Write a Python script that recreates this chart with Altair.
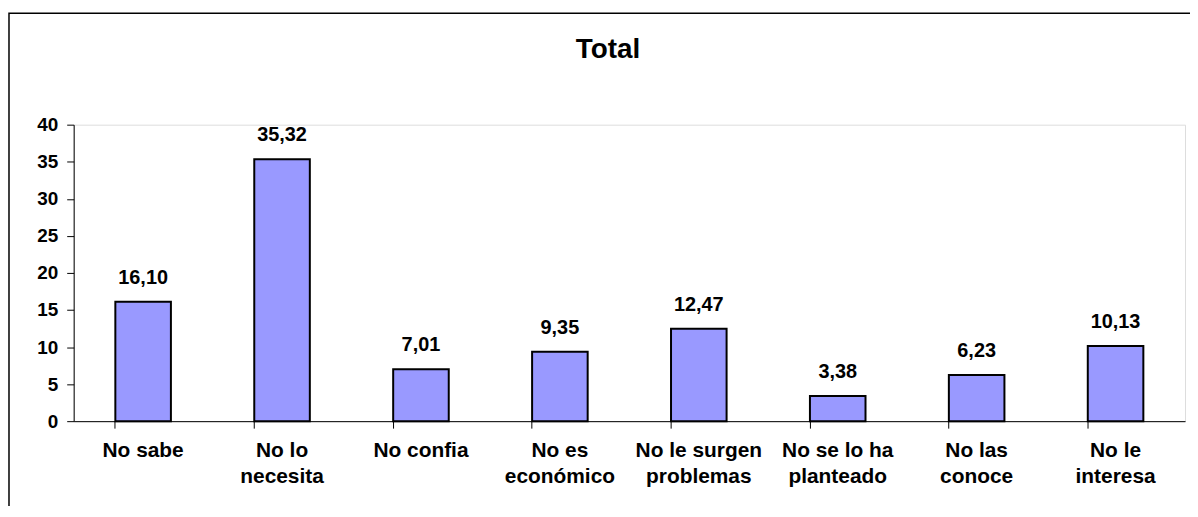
import altair as alt
import pandas as pd

categories = ["No sabe", "No lo\nnecesita", "No confia", "No es\neconómico",
              "No le surgen\nproblemas", "No se lo ha\nplanteado", "No las\nconoce",
              "No le\ninteresa"]
values = [16.10, 35.32, 7.01, 9.35, 12.47, 3.38, 6.23, 10.13]
y_ticks = [0, 5, 10, 15, 20, 25, 30, 35, 40]
title_text = "Total"

df = pd.DataFrame({"cat": categories, "val": values})

FONT = "Liberation Sans"

x_enc = alt.X("cat:N", sort=None, title=None,
              scale=alt.Scale(paddingInner=0.6, paddingOuter=0.3),
              axis=alt.Axis(labelAngle=0, labelFont=FONT, labelFontSize=21,
                            labelFontWeight="bold", labelColor="black",
                            labelExpr="split(datum.label, '\\n')",
                            labelLineHeight=26, labelPadding=12, labelBaseline="top",
                            bandPosition=0, tickSize=7, tickColor="black",
                            domainColor="black", ticks=True, grid=False))
y_enc = alt.Y("val:Q", title=None,
              scale=alt.Scale(domain=[0, 40], nice=False),
              axis=alt.Axis(values=y_ticks, labelOverlap=False,
                            labelFont=FONT, labelFontSize=19, labelFontWeight="bold",
                            labelColor="black", tickSize=7, tickColor="black",
                            domainColor="black", labelPadding=9, grid=False))

base = alt.Chart(df)

frame = base.mark_rect(fill=None, stroke="black", strokeWidth=1.5, clip=False).encode(
    x=alt.value(-65), x2=alt.value(1200), y=alt.value(-112), y2=alt.value(600)
).transform_filter("datum.cat == 'No sabe'")

title = base.mark_text(font=FONT, fontSize=28, fontWeight="bold", color="black",
                       baseline="alphabetic", align="center").encode(
    x=alt.value(537), y=alt.value(-67), text=alt.value(title_text)
).transform_filter("datum.cat == 'No sabe'")

bars = base.mark_bar(color="#9999FF", stroke="black", strokeWidth=2).encode(
    x=x_enc, y=y_enc)

labels = base.transform_calculate(
    lab="replace(format(datum.val, '.2f'), '.', ',')"
).mark_text(font=FONT, fontSize=20, fontWeight="bold", color="black",
            baseline="alphabetic", dy=-18).encode(
    x=x_enc, y=y_enc, text="lab:N")

chart = alt.layer(frame, title, bars, labels).properties(
    width=1117, height=298,
    autosize=alt.AutoSizeParams(type="none"),
    padding={"left": 66, "top": 116, "right": 5, "bottom": 84},
).configure_view(stroke=None).configure(background="white")

chart.save("out.html", embed_options={"renderer": "svg", "actions": False})
